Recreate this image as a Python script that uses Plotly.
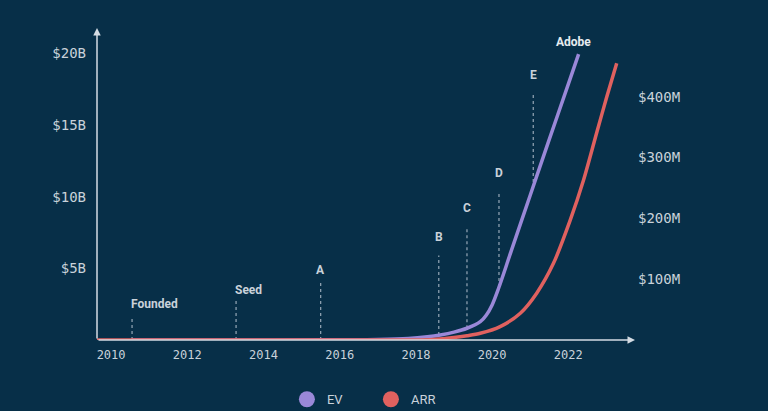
import plotly.graph_objects as go

# ---- data ----
ev_years = [2010.55, 2013.28, 2015.5, 2017.0, 2017.8, 2018.3, 2018.64, 2019.0, 2019.34,
            2019.69, 2019.85, 2020.0, 2020.17, 2020.5, 2021.0, 2021.5, 2022.0, 2022.27]
ev_billions = [0, 0, 0.01, 0.03, 0.1, 0.22, 0.35, 0.55, 0.82,
               1.28, 1.75, 2.45, 3.61, 6.2, 10.1, 14.0, 17.85, 19.95]

arr_years = [2009.63, 2018.0, 2018.45, 2019.0, 2019.34, 2019.69, 2020.21, 2020.74, 2021.17,
             2021.61, 2022.05, 2022.40, 2022.75, 2023.01, 2023.27]
arr_millions = [0, 0, 0.8, 4, 7, 11, 22, 44, 77, 126, 197, 263, 342, 400, 455]

event_names = ["Founded", "Seed", "A", "B", "C", "D", "E"]
event_years = [2010.55, 2013.28, 2015.5, 2018.6, 2019.34, 2020.18, 2021.08]
event_base_b = [0, 0, 0, 0.35, 0.82, 3.7, 10.6]
event_top_b = [1.6, 2.86, 4.1, 5.9, 7.9, 10.3, 17.2]
event_label_b = [2.5, 3.5, 4.9, 7.2, 9.2, 11.65, 18.5]
event_align = ["left", "left", "center", "center", "center", "center", "center"]

end_label = "Adobe"
end_label_year = 2022.13
end_label_b = 20.8

x_ticks = [2010, 2012, 2014, 2016, 2018, 2020, 2022]
left_ticks_b = [5, 10, 15, 20]
left_tick_text = ["$5B", "$10B", "$15B", "$20B"]
right_ticks_m = [100, 200, 300, 400]
right_tick_text = ["$100M", "$200M", "$300M", "$400M"]

# ---- style ----
BG = "#072f48"
TXT = "#c9d2da"
PURPLE = "#9a88d8"
RED = "#e0615f"
AXIS = "#d4dce3"
DOT = "#8b9eae"
MONO = "DejaVu Sans Mono"
SANS = "Roboto"

fig = go.Figure()

# dotted event lines
lx, ly = [], []
for yr, b0, b1 in zip(event_years, event_base_b, event_top_b):
    lx += [yr, yr, None]
    ly += [b0 * 1e9, b1 * 1e9, None]
fig.add_trace(go.Scatter(x=lx, y=ly, mode="lines", showlegend=False, hoverinfo="skip",
                         line=dict(color=DOT, width=1.3, dash="dot")))

# ARR (right axis)
fig.add_trace(go.Scatter(x=arr_years, y=[m * 1e6 for m in arr_millions], yaxis="y2",
                         mode="lines", line=dict(color=RED, width=3.5, shape="spline", smoothing=0.8),
                         showlegend=False))
# EV (left axis)
fig.add_trace(go.Scatter(x=ev_years, y=[b * 1e9 for b in ev_billions],
                         mode="lines", line=dict(color=PURPLE, width=3.5, shape="spline", smoothing=0.9),
                         showlegend=False))

# legend entries
fig.add_trace(go.Scatter(x=[None], y=[None], mode="markers", name="EV",
                         marker=dict(color=PURPLE, size=16)))
fig.add_trace(go.Scatter(x=[None], y=[None], mode="markers", name="ARR",
                         marker=dict(color=RED, size=16)))

annotations = []
for name, yr, lb, al in zip(event_names, event_years, event_label_b, event_align):
    annotations.append(dict(x=yr, y=lb * 1e9, text=name, showarrow=False,
                            font=dict(family=SANS, size=12, color=TXT, weight="bold"),
                            xanchor=al, xshift=(-3 if al == "left" else 0), yanchor="middle"))
annotations.append(dict(x=end_label_year, y=end_label_b * 1e9, text=end_label, showarrow=False,
                        font=dict(family=SANS, size=12, color="#e6ebef", weight="bold"),
                        xanchor="center", yanchor="middle"))
# axis arrows
annotations.append(dict(x=0, y=1, xref="x domain", yref="y domain", ax=0, ay=0,
                        axref="x domain", ayref="y domain",
                        showarrow=True, arrowhead=2, arrowsize=1, arrowwidth=1.5, arrowcolor=AXIS, text=""))
annotations.append(dict(x=1, y=0, xref="x domain", yref="y domain", ax=0, ay=0,
                        axref="x domain", ayref="y domain",
                        showarrow=True, arrowhead=2, arrowsize=1, arrowwidth=1.5, arrowcolor=AXIS, text=""))

fig.update_layout(
    width=768, height=411,
    margin=dict(l=97, r=133, t=28, b=71, autoexpand=False),
    paper_bgcolor=BG, plot_bgcolor=BG,
    xaxis=dict(range=[2009.63, 2023.75], tickvals=x_ticks, ticktext=[str(v) for v in x_ticks],
               showgrid=False, zeroline=False, showline=False, ticks="",
               tickfont=dict(family=MONO, size=12, color=TXT), ticklabelstandoff=6),
    yaxis=dict(range=[0, 21.77e9], tickvals=[v * 1e9 for v in left_ticks_b], ticktext=left_tick_text,
               showgrid=False, zeroline=False, showline=False, ticks="",
               tickfont=dict(family=MONO, size=14, color=TXT), ticklabelstandoff=10),
    yaxis2=dict(range=[0, 513e6], overlaying="y", side="right",
                tickvals=[v * 1e6 for v in right_ticks_m], ticktext=right_tick_text,
                showgrid=False, zeroline=False, showline=False, ticks="",
                tickfont=dict(family=MONO, size=14, color=TXT), ticklabelstandoff=2),
    legend=dict(orientation="h", x=0.353, xanchor="left", y=-0.19, yanchor="middle",
                font=dict(family=SANS, size=13, color=TXT), bgcolor="rgba(0,0,0,0)",
                entrywidth=39, itemsizing="trace"),
    annotations=annotations,
)

fig.write_html("out.html")
